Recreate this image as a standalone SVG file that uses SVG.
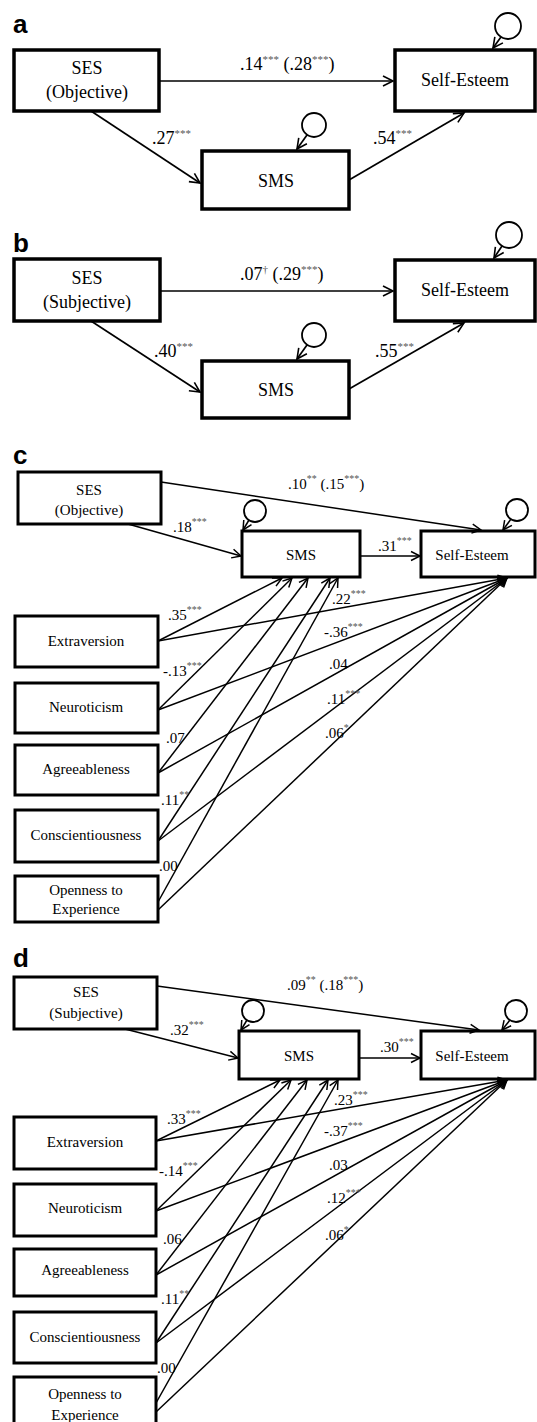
<svg xmlns="http://www.w3.org/2000/svg" width="537" height="1422" viewBox="0 0 537 1422">
<defs>
<marker id="ah" markerUnits="userSpaceOnUse" markerWidth="14" markerHeight="14" refX="10" refY="5" orient="auto" overflow="visible">
<path d="M0,0 L10,5 L0,10" fill="none" stroke="#000" stroke-width="1.6"/>
</marker>
<marker id="as" markerUnits="userSpaceOnUse" markerWidth="12" markerHeight="12" refX="9" refY="4.5" orient="auto" overflow="visible">
<path d="M0,0 L9,4.5 L0,9" fill="none" stroke="#000" stroke-width="1.5"/>
</marker>
<style>
.pl{font-family:"Liberation Sans",Arial,sans-serif;font-weight:bold;font-size:26px;fill:#000}
.bA{fill:#fff;stroke:#000;stroke-width:3.5}
.bC{fill:#fff;stroke:#000;stroke-width:3}
.tA{font-family:"Liberation Serif","Times New Roman",serif;font-size:18px;fill:#000;text-anchor:middle}
.tC{font-family:"Liberation Serif","Times New Roman",serif;font-size:15px;fill:#000;text-anchor:middle}
.lA{font-family:"Liberation Serif","Times New Roman",serif;font-size:18px;fill:#000}
.lC{font-family:"Liberation Serif","Times New Roman",serif;font-size:15px;fill:#000}
.sA{font-size:11px;fill:#555}
.sC{font-size:10px;fill:#555}
.cA{fill:none;stroke:#000;stroke-width:1.8}
.eA{fill:none;stroke:#000;stroke-width:1.7;marker-end:url(#ah)}
.eC{fill:none;stroke:#000;stroke-width:1.5;marker-end:url(#as)}
</style>
</defs>

<!-- Panel labels -->
<text class="pl" x="13" y="33">a</text>
<text class="pl" x="13" y="252">b</text>
<text class="pl" x="13" y="464">c</text>
<text class="pl" x="13" y="967">d</text>

<!-- ===== Panel a ===== -->
<g id="a-ses"><rect class="bA" x="14" y="50" width="145" height="61"/><text class="tA" x="87" y="74">SES</text><text class="tA" x="87" y="98">(Objective)</text></g>
<g id="a-se"><rect class="bA" x="395" y="50" width="140" height="61"/><text class="tA" x="465" y="86">Self-Esteem</text><circle class="cA" cx="508" cy="26" r="13"/></g>
<g id="a-sms"><rect class="bA" x="202" y="151" width="147" height="58"/><text class="tA" x="276" y="187">SMS</text><circle class="cA" cx="314" cy="125" r="12"/></g>

<!-- ===== Panel b ===== -->
<g id="b-ses"><rect class="bA" x="14" y="259" width="146" height="62"/><text class="tA" x="87" y="284">SES</text><text class="tA" x="87" y="308">(Subjective)</text></g>
<g id="b-se"><rect class="bA" x="395" y="260" width="140" height="61"/><text class="tA" x="465" y="296">Self-Esteem</text><circle class="cA" cx="509" cy="235" r="13"/></g>
<g id="b-sms"><rect class="bA" x="202" y="361" width="147" height="57"/><text class="tA" x="276" y="396">SMS</text><circle class="cA" cx="314" cy="335" r="12"/></g>

<!-- ===== Panel c ===== -->
<g id="c-ses"><rect class="bC" x="18" y="472" width="143" height="52"/><text class="tC" x="89" y="495">SES</text><text class="tC" x="89" y="515">(Objective)</text></g>
<g id="c-sms"><rect class="bC" x="242" y="531" width="118" height="46"/><text class="tC" x="301" y="560">SMS</text><circle class="cA" cx="255" cy="511" r="11"/></g>
<g id="c-se"><rect class="bC" x="421" y="531" width="114" height="46"/><text class="tC" x="472" y="560">Self-Esteem</text><circle class="cA" cx="517" cy="510" r="11"/></g>
<g id="c-ext"><rect class="bC" x="15" y="616" width="143" height="51"/><text class="tC" x="86" y="646">Extraversion</text></g>
<g id="c-neu"><rect class="bC" x="15" y="683" width="143" height="50"/><text class="tC" x="86" y="712">Neuroticism</text></g>
<g id="c-agr"><rect class="bC" x="15" y="745" width="143" height="50"/><text class="tC" x="86" y="774">Agreeableness</text></g>
<g id="c-con"><rect class="bC" x="15" y="810" width="143" height="52"/><text class="tC" x="86" y="840">Conscientiousness</text></g>
<g id="c-ope"><rect class="bC" x="15" y="876" width="143" height="46"/><text class="tC" x="86" y="895">Openness to</text><text class="tC" x="86" y="914">Experience</text></g>

<!-- ===== Panel d ===== -->
<g id="d-ses"><rect class="bC" x="14" y="977" width="143" height="52"/><text class="tC" x="86" y="997">SES</text><text class="tC" x="86" y="1018">(Subjective)</text></g>
<g id="d-sms"><rect class="bC" x="239" y="1031" width="120" height="48"/><text class="tC" x="299" y="1061">SMS</text><circle class="cA" cx="253" cy="1011" r="11"/></g>
<g id="d-se"><rect class="bC" x="421" y="1031" width="114" height="48"/><text class="tC" x="472" y="1061">Self-Esteem</text><circle class="cA" cx="516" cy="1011" r="11"/></g>
<g id="d-ext"><rect class="bC" x="14" y="1117" width="142" height="52"/><text class="tC" x="85" y="1147">Extraversion</text></g>
<g id="d-neu"><rect class="bC" x="14" y="1184" width="142" height="52"/><text class="tC" x="85" y="1213">Neuroticism</text></g>
<g id="d-agr"><rect class="bC" x="14" y="1249" width="142" height="47"/><text class="tC" x="85" y="1275">Agreeableness</text></g>
<g id="d-con"><rect class="bC" x="14" y="1312" width="142" height="51"/><text class="tC" x="85" y="1342">Conscientiousness</text></g>
<g id="d-ope"><rect class="bC" x="14" y="1377" width="142" height="60"/><text class="tC" x="85" y="1399">Openness to</text><text class="tC" x="85" y="1420">Experience</text></g>

<!-- ===== Connectors ===== -->
<g id="connectors">
<!-- a -->
<line class="eA" x1="159" y1="81" x2="393" y2="81"/>
<line class="eA" x1="91" y1="111" x2="200" y2="183"/>
<line class="eA" x1="349" y1="180" x2="464" y2="113"/>
<line class="eA" x1="501" y1="37" x2="493" y2="48"/>
<line class="eA" x1="307" y1="135" x2="297" y2="149"/>
<!-- b -->
<line class="eA" x1="160" y1="291" x2="393" y2="291"/>
<line class="eA" x1="91" y1="321" x2="200" y2="392"/>
<line class="eA" x1="349" y1="389" x2="464" y2="323"/>
<line class="eA" x1="502" y1="246" x2="494" y2="258"/>
<line class="eA" x1="307" y1="345" x2="297" y2="359"/>
<!-- c -->
<line class="eC" x1="161" y1="482" x2="481" y2="530"/>
<line class="eC" x1="128" y1="524" x2="241" y2="556"/>
<line class="eC" x1="360" y1="556" x2="420" y2="556"/>
<line class="eC" x1="249" y1="520" x2="243" y2="530"/>
<line class="eC" x1="511" y1="519" x2="503" y2="530"/>
<line class="eC" x1="158" y1="641" x2="282" y2="578"/>
<line class="eC" x1="158" y1="710" x2="292" y2="578"/>
<line class="eC" x1="158" y1="773" x2="308" y2="578"/>
<line class="eC" x1="158" y1="841" x2="330" y2="578"/>
<line class="eC" x1="158" y1="902" x2="338" y2="578"/>
<line class="eC" x1="158" y1="641" x2="507" y2="578"/>
<line class="eC" x1="158" y1="710" x2="507" y2="578"/>
<line class="eC" x1="158" y1="773" x2="507" y2="578"/>
<line class="eC" x1="158" y1="841" x2="507" y2="578"/>
<line class="eC" x1="158" y1="910" x2="507" y2="578"/>
<!-- d -->
<line class="eC" x1="157" y1="986" x2="479" y2="1030"/>
<line class="eC" x1="125" y1="1029" x2="238" y2="1058"/>
<line class="eC" x1="359" y1="1058" x2="420" y2="1058"/>
<line class="eC" x1="247" y1="1020" x2="241" y2="1030"/>
<line class="eC" x1="510" y1="1020" x2="502" y2="1030"/>
<line class="eC" x1="156" y1="1141" x2="280" y2="1080"/>
<line class="eC" x1="156" y1="1211" x2="291" y2="1080"/>
<line class="eC" x1="156" y1="1275" x2="307" y2="1080"/>
<line class="eC" x1="156" y1="1343" x2="328" y2="1080"/>
<line class="eC" x1="156" y1="1403" x2="338" y2="1080"/>
<line class="eC" x1="156" y1="1141" x2="507" y2="1080"/>
<line class="eC" x1="156" y1="1211" x2="507" y2="1080"/>
<line class="eC" x1="156" y1="1275" x2="507" y2="1080"/>
<line class="eC" x1="156" y1="1343" x2="507" y2="1080"/>
<line class="eC" x1="156" y1="1412" x2="507" y2="1080"/>
</g>

<!-- ===== Labels ===== -->
<g id="labels">
<text class="lA" x="240" y="70">.14<tspan class="sA" dy="-7">***</tspan><tspan dy="7"> (.28</tspan><tspan class="sA" dy="-7">***</tspan><tspan dy="7">)</tspan></text>
<text class="lA" x="152" y="144">.27<tspan class="sA" dy="-7">***</tspan></text>
<text class="lA" x="373" y="144">.54<tspan class="sA" dy="-7">***</tspan></text>
<text class="lA" x="240" y="280">.07<tspan class="sA" dy="-7">†</tspan><tspan dy="7"> (.29</tspan><tspan class="sA" dy="-7">***</tspan><tspan dy="7">)</tspan></text>
<text class="lA" x="154" y="357">.40<tspan class="sA" dy="-7">***</tspan></text>
<text class="lA" x="375" y="357">.55<tspan class="sA" dy="-7">***</tspan></text>

<text class="lC" x="288" y="489">.10<tspan class="sC" dy="-7">**</tspan><tspan dy="7"> (.15</tspan><tspan class="sC" dy="-7">***</tspan><tspan dy="7">)</tspan></text>
<text class="lC" x="173" y="532">.18<tspan class="sC" dy="-7">***</tspan></text>
<text class="lC" x="378" y="551">.31<tspan class="sC" dy="-7">***</tspan></text>
<text class="lC" x="168" y="620">.35<tspan class="sC" dy="-7">***</tspan></text>
<text class="lC" x="332" y="604">.22<tspan class="sC" dy="-7">***</tspan></text>
<text class="lC" x="324" y="637">-.36<tspan class="sC" dy="-7">***</tspan></text>
<text class="lC" x="163" y="676">-.13<tspan class="sC" dy="-7">***</tspan></text>
<text class="lC" x="329" y="669">.04</text>
<text class="lC" x="327" y="704">.11<tspan class="sC" dy="-7">***</tspan></text>
<text class="lC" x="166" y="743">.07</text>
<text class="lC" x="325" y="738">.06<tspan class="sC" dy="-7">*</tspan></text>
<text class="lC" x="161" y="805">.11<tspan class="sC" dy="-7">**</tspan></text>
<text class="lC" x="159" y="871">.00</text>

<text class="lC" x="287" y="990">.09<tspan class="sC" dy="-7">**</tspan><tspan dy="7"> (.18</tspan><tspan class="sC" dy="-7">***</tspan><tspan dy="7">)</tspan></text>
<text class="lC" x="170" y="1035">.32<tspan class="sC" dy="-7">***</tspan></text>
<text class="lC" x="380" y="1052">.30<tspan class="sC" dy="-7">***</tspan></text>
<text class="lC" x="167" y="1124">.33<tspan class="sC" dy="-7">***</tspan></text>
<text class="lC" x="334" y="1105">.23<tspan class="sC" dy="-7">***</tspan></text>
<text class="lC" x="324" y="1136">-.37<tspan class="sC" dy="-7">***</tspan></text>
<text class="lC" x="159" y="1176">-.14<tspan class="sC" dy="-7">***</tspan></text>
<text class="lC" x="329" y="1170">.03</text>
<text class="lC" x="327" y="1203">.12<tspan class="sC" dy="-7">***</tspan></text>
<text class="lC" x="163" y="1244">.06</text>
<text class="lC" x="325" y="1240">.06<tspan class="sC" dy="-7">*</tspan></text>
<text class="lC" x="161" y="1304">.11<tspan class="sC" dy="-7">**</tspan></text>
<text class="lC" x="157" y="1373">.00</text>
</g>
</svg>
